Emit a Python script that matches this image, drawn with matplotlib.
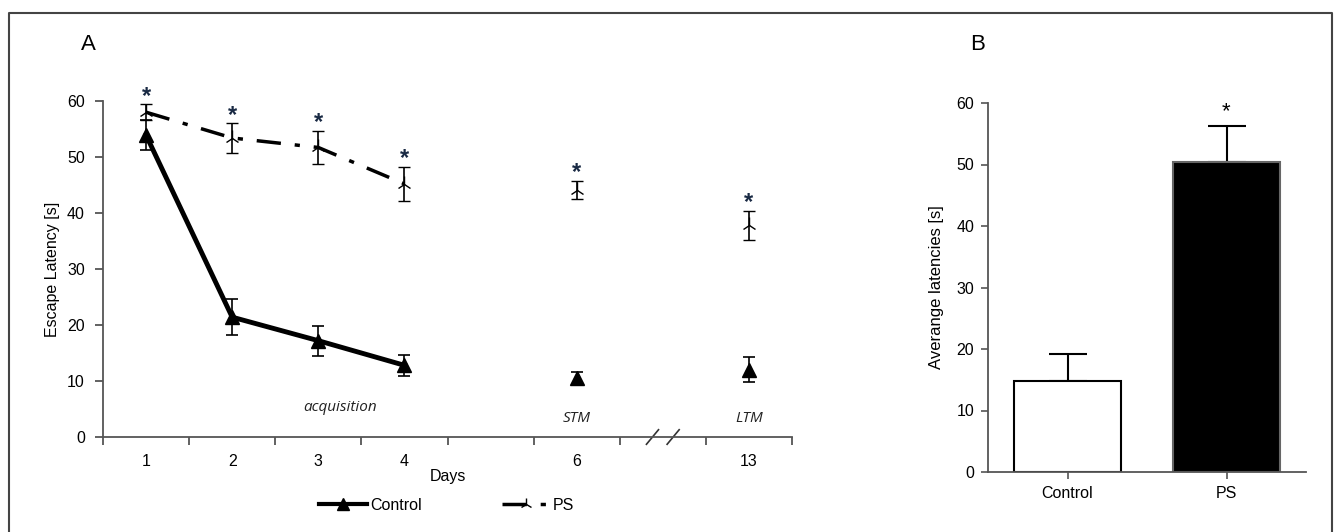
import numpy as np
import matplotlib
matplotlib.use('Agg')
import matplotlib.pyplot as plt
from matplotlib.lines import Line2D

plt.rcParams['font.family'] = ['Liberation Sans', 'DejaVu Sans']

# panel A data
day_labels = ['1', '2', '3', '4', '', '6', '', '13']
control_pos = [0, 1, 2, 3, 5, 7]
control_mean = [53.9, 21.4, 17.2, 12.8, 10.5, 12.0]
control_err = [2.7, 3.2, 2.7, 1.9, 1.1, 2.2]
ps_pos = [0, 1, 2, 3, 5, 7]
ps_mean = [58.0, 53.4, 51.7, 45.2, 44.1, 37.8]
ps_err = [1.4, 2.6, 3.0, 3.1, 1.6, 2.6]
n_acq = 4  # days connected by lines

# panel B data
groups = ['Control', 'PS']
avg_mean = [14.8, 50.4]
avg_err = [4.4, 5.8]

axis_col = '#555555'
fs = 11.5

fig = plt.figure(figsize=(13.35, 5.32), dpi=100)

# outer frame (top, left, right)
fig.add_artist(Line2D([9 / 1335, 9 / 1335, 1332 / 1335, 1332 / 1335],
                      [0, 1 - 13 / 532, 1 - 13 / 532, 0],
                      color='#444444', lw=1.5, transform=fig.transFigure))

# ---- panel A
axA = fig.add_axes([103 / 1335, 1 - 437 / 532, 689 / 1335, 336 / 532])
axA.errorbar(control_pos[:n_acq], control_mean[:n_acq], yerr=control_err[:n_acq],
             color='black', lw=3.5, marker='^', ms=10, ecolor='black',
             elinewidth=1.2, capsize=4, capthick=1.2, zorder=3)
axA.errorbar(control_pos[n_acq:], control_mean[n_acq:], yerr=control_err[n_acq:],
             color='black', lw=0, marker='^', ms=10, ecolor='black',
             elinewidth=1.2, capsize=4, capthick=1.2, zorder=3)
axA.errorbar(ps_pos[:n_acq], ps_mean[:n_acq], yerr=ps_err[:n_acq],
             color='black', lw=2.5, ls=(0, (7, 4, 1.5, 4)), marker='2', ms=11,
             mew=1, ecolor='black', elinewidth=1.2, capsize=4, capthick=1.2,
             zorder=3)
axA.errorbar(ps_pos[n_acq:], ps_mean[n_acq:], yerr=ps_err[n_acq:],
             color='black', lw=0, marker='2', ms=11, mew=1, ecolor='black',
             elinewidth=1.2, capsize=4, capthick=1.2, zorder=3)
for x, m, e in zip(ps_pos, ps_mean, ps_err):
    axA.text(x, m + e - 0.6, '*', ha='center', va='bottom', fontsize=17,
             color='#1a2a44', fontweight='bold')

axA.set_xlim(-0.5, len(day_labels) - 0.5)
axA.set_ylim(0, 60)
axA.set_xticks(np.arange(len(day_labels) + 1) - 0.5)
axA.set_xticklabels([])
axA.set_xticks(np.arange(len(day_labels)), minor=True)
axA.set_xticklabels(day_labels, minor=True)
axA.tick_params(axis='x', which='minor', length=0, pad=12, labelsize=fs)
axA.tick_params(axis='x', which='major', length=6, width=1.3, color=axis_col)
axA.set_yticks(np.arange(0, 61, 10))
axA.tick_params(axis='y', length=6, width=1.3, color=axis_col, labelsize=fs,
                pad=7)
for s in ['top', 'right']:
    axA.spines[s].set_visible(False)
for s in ['left', 'bottom']:
    axA.spines[s].set_color(axis_col)
    axA.spines[s].set_linewidth(1.3)
axA.set_ylabel('Escape Latency [s]', fontsize=fs, labelpad=5)
axA.set_xlabel('Days', fontsize=fs, labelpad=0)

axA.text(2.25, 3.9, 'acquisition', style='italic', fontsize=11,
         family='Open Sans', ha='center', va='bottom', color='#222222')
axA.text(5, 1.9, 'STM', style='italic', fontsize=11, family='Open Sans',
         ha='center', va='bottom', color='#222222')
axA.text(7, 1.9, 'LTM', style='italic', fontsize=11, family='Open Sans',
         ha='center', va='bottom', color='#222222')

# axis break marks
for dx in (-0.12, 0.12):
    axA.plot([6 + dx - 0.07, 6 + dx + 0.07], [-1.3, 1.3], color='#333333',
             lw=1.2, clip_on=False)

h_ctrl = Line2D([], [], color='black', lw=3, marker='^', ms=9)
h_ps = Line2D([], [], color='black', lw=2.5, ls=(0, (7, 4, 1.5, 4)),
              marker='2', ms=9, mew=1)
fig.legend([h_ctrl, h_ps], ['Control', 'PS'], loc='center',
           bbox_to_anchor=(447 / 1335, 1 - 505 / 532), ncol=2, frameon=False,
           fontsize=fs, columnspacing=5, handlelength=3, handletextpad=0.2)

fig.text(88 / 1335, 1 - 45 / 532, 'A', fontsize=16, ha='center', va='center')

# ---- panel B
axB = fig.add_axes([988 / 1335, 1 - 472 / 532, 318 / 1335, 369 / 532])
axB.bar([0, 1], avg_mean, width=0.67, color=['white', 'black'],
        edgecolor=['black', '#666666'], lw=1.5, zorder=2)
axB.errorbar([0, 1], avg_mean, yerr=[[0, 0], avg_err], fmt='none',
             ecolor='black', elinewidth=1.5, capsize=14, capthick=1.5,
             zorder=1)
axB.text(1, avg_mean[1] + avg_err[1] + 0.6, '*', ha='center', va='bottom',
         fontsize=16)
axB.set_xlim(-0.5, 1.5)
axB.set_ylim(0, 60)
axB.set_xticks([0, 1])
axB.set_xticklabels(groups)
axB.set_yticks(np.arange(0, 61, 10))
axB.tick_params(length=5, width=1.2, color=axis_col, labelsize=fs, pad=5)
for s in ['top', 'right']:
    axB.spines[s].set_visible(False)
for s in ['left', 'bottom']:
    axB.spines[s].set_color(axis_col)
    axB.spines[s].set_linewidth(1.3)
axB.set_ylabel('Averange latencies [s]', fontsize=fs + 0.5, labelpad=9)

fig.text(978 / 1335, 1 - 45 / 532, 'B', fontsize=16, ha='center', va='center')

fig.savefig('out.png', dpi=100)
